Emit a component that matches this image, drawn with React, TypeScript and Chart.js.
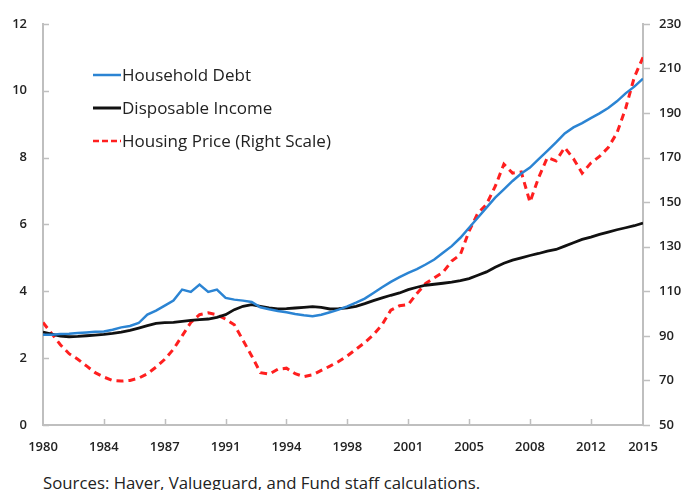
import React, { useEffect, useRef } from 'react';
import { Chart, registerables } from 'chart.js';
Chart.register(...registerables);

const years = [
  1980, 1980.5, 1981, 1981.5, 1982, 1982.5, 1983, 1983.5, 1984, 1984.5,
  1985, 1985.5, 1986, 1986.5, 1987, 1987.5, 1988, 1988.5, 1989, 1989.5,
  1990, 1990.5, 1991, 1991.5, 1992, 1992.5, 1993, 1993.5, 1994, 1994.5,
  1995, 1995.5, 1996, 1996.5, 1997, 1997.5, 1998, 1998.5, 1999, 1999.5,
  2000, 2000.5, 2001, 2001.5, 2002, 2002.5, 2003, 2003.5, 2004, 2004.5,
  2005, 2005.5, 2006, 2006.5, 2007, 2007.5, 2008, 2008.5, 2009, 2009.5,
  2010, 2010.5, 2011, 2011.5, 2012, 2012.5, 2013, 2013.5, 2014, 2014.5,
];

const householdDebt = [
  2.7, 2.7, 2.72, 2.73, 2.75, 2.77, 2.79, 2.8, 2.85, 2.92,
  2.96, 3.05, 3.3, 3.42, 3.57, 3.72, 4.05, 3.98, 4.2, 3.98,
  4.05, 3.8, 3.75, 3.72, 3.68, 3.52, 3.46, 3.41, 3.37, 3.32,
  3.28, 3.25, 3.3, 3.37, 3.45, 3.55, 3.66, 3.78, 3.95, 4.12,
  4.28, 4.42, 4.55, 4.66, 4.8, 4.95, 5.15, 5.35, 5.6, 5.9,
  6.2, 6.5, 6.8, 7.05, 7.3, 7.52, 7.7, 7.95, 8.2, 8.45,
  8.72, 8.9, 9.03, 9.18, 9.32, 9.48, 9.68, 9.92, 10.12, 10.36,
];

const disposableIncome = [
  2.78, 2.72, 2.66, 2.64, 2.65, 2.67, 2.69, 2.71, 2.74, 2.78,
  2.83, 2.9, 2.97, 3.04, 3.06, 3.07, 3.1, 3.13, 3.15, 3.17,
  3.22, 3.3, 3.45, 3.55, 3.6, 3.55, 3.5, 3.47, 3.48, 3.5,
  3.52, 3.54, 3.52, 3.47, 3.48, 3.5, 3.55, 3.63, 3.72, 3.8,
  3.88, 3.95, 4.05, 4.12, 4.18, 4.21, 4.24, 4.27, 4.32, 4.38,
  4.48, 4.58, 4.72, 4.84, 4.93, 5.0, 5.07, 5.13, 5.2, 5.25,
  5.35, 5.45, 5.55, 5.62, 5.7, 5.77, 5.84, 5.9, 5.96, 6.04,
];

const housingPrice = [
  96, 91, 86, 82, 79.5, 76.5, 73.5, 71.5, 70, 69.7,
  70, 71, 73, 76, 79.5, 84, 90, 96, 99.5, 100.3,
  99.5, 97.5, 95, 88, 81, 73.5, 72.8, 75, 75.5, 73,
  71.7, 72.5, 74.5, 76.4, 78.5, 81, 84, 87, 90.5, 95,
  101.5, 103.5, 104, 109, 113.5, 116, 118.5, 123.5, 126.5, 137,
  145, 149, 157, 167, 163, 163.5, 150, 161, 170, 168.5,
  174.5, 169.5, 163, 167.5, 170.5, 174.5, 181, 192, 206, 215,
];

const xTickValues = [1980, 1983.5, 1987, 1990.5, 1994, 1997.5, 2001, 2004.5, 2008, 2011.5, 2014.5];
const xTickLabels = ['1980', '1984', '1987', '1991', '1994', '1998', '2001', '2005', '2008', '2012', '2015'];

const seriesNames = ['Household Debt', 'Disposable Income', 'Housing Price (Right Scale)'];
const seriesColors = ['#2b84d3', '#111111', '#ff1f1f'];

const FONT = "'Open Sans', 'DejaVu Sans', sans-serif";
const TEXT = '#222222';
const AXIS = '#bfbfbf';

const decorPlugin = {
  id: 'decor',
  afterDraw(chart: any) {
    const { ctx, chartArea: a, scales } = chart;
    ctx.save();
    ctx.strokeStyle = AXIS;
    ctx.lineWidth = 1.5;
    ctx.beginPath();
    for (const t of scales.y.ticks) {
      const y = Math.round(scales.y.getPixelForValue(t.value)) + 0.5;
      ctx.moveTo(a.left, y);
      ctx.lineTo(a.left + 6, y);
    }
    for (const t of scales.y1.ticks) {
      const y = Math.round(scales.y1.getPixelForValue(t.value)) + 0.5;
      ctx.moveTo(a.right, y);
      ctx.lineTo(a.right + 7, y);
    }
    for (const v of xTickValues.slice(1, -1)) {
      const x = Math.round(scales.x.getPixelForValue(v)) + 0.5;
      ctx.moveTo(x, a.bottom);
      ctx.lineTo(x, a.bottom - 6);
    }
    ctx.stroke();

    // legend
    const rows = [75, 108, 141];
    const widths = [2.5, 3, 2.5];
    const dashes = [[], [], [6, 3]];
    ctx.font = `17px ${FONT}`;
    ctx.textBaseline = 'middle';
    ctx.textAlign = 'left';
    rows.forEach((y, i) => {
      ctx.beginPath();
      ctx.setLineDash(dashes[i]);
      ctx.strokeStyle = seriesColors[i];
      ctx.lineWidth = widths[i];
      ctx.moveTo(93, y);
      ctx.lineTo(121, y);
      ctx.stroke();
      ctx.setLineDash([]);
      ctx.fillStyle = TEXT;
      ctx.fillText(seriesNames[i], 122, y + 1);
    });
    ctx.restore();
  },
};

export default function App() {
  const ref = useRef<HTMLCanvasElement>(null);
  useEffect(() => {
    const mk = (arr: number[]) => arr.map((v, i) => ({ x: years[i], y: v }));
    const tickFont = { family: FONT, size: 13, weight: 600 };
    const chart = new Chart(ref.current as HTMLCanvasElement, {
      type: 'line',
      data: {
        datasets: [
          {
            label: seriesNames[0],
            data: mk(householdDebt),
            borderColor: seriesColors[0],
            borderWidth: 2.5,
            yAxisID: 'y',
            pointRadius: 0,
          },
          {
            label: seriesNames[1],
            data: mk(disposableIncome),
            borderColor: seriesColors[1],
            borderWidth: 2.8,
            yAxisID: 'y',
            pointRadius: 0,
          },
          {
            label: seriesNames[2],
            data: mk(housingPrice),
            borderColor: seriesColors[2],
            borderWidth: 3,
            borderDash: [7, 5],
            yAxisID: 'y1',
            pointRadius: 0,
          },
        ],
      },
      options: {
        responsive: false,
        animation: false,
        layout: { padding: { top: 22, left: 0, right: 0, bottom: 0 } },
        plugins: { legend: { display: false }, tooltip: { enabled: false } },
        scales: {
          x: {
            type: 'linear',
            min: 1980,
            max: 2014.5,
            afterBuildTicks: (s: any) => {
              s.ticks = xTickValues.map((v) => ({ value: v }));
            },
            afterFit: (s: any) => {
              s.height = 35;
            },
            grid: { drawOnChartArea: false, drawTicks: false },
            border: { display: true, color: AXIS, width: 2 },
            ticks: {
              autoSkip: false,
              maxRotation: 0,
              padding: 14,
              color: TEXT,
              font: tickFont,
              callback: (_v: any, i: number) => xTickLabels[i],
            },
          },
          y: {
            position: 'left',
            min: 0,
            max: 12,
            afterFit: (s: any) => {
              s.width = 43;
            },
            grid: { drawOnChartArea: false, drawTicks: false },
            border: { display: true, color: AXIS, width: 2 },
            ticks: { stepSize: 2, padding: 16, color: TEXT, font: tickFont },
          },
          y1: {
            position: 'right',
            min: 50,
            max: 230,
            afterFit: (s: any) => {
              s.width = 42;
            },
            grid: { drawOnChartArea: false, drawTicks: false },
            border: { display: true, color: AXIS, width: 2 },
            ticks: { stepSize: 20, padding: 16, color: TEXT, font: tickFont },
          },
        },
      },
      plugins: [decorPlugin],
    } as any);
    return () => chart.destroy();
  }, []);

  return (
    <div style={{ position: 'absolute', left: 0, top: 0, width: 685, height: 490, background: '#fff' }}>
      <canvas ref={ref} width={685} height={460} style={{ display: 'block', width: 685, height: 460 }} />
      <div
        style={{
          position: 'absolute',
          left: 43,
          top: 472,
          fontFamily: FONT,
          fontSize: 16.8,
          lineHeight: '22px',
          color: TEXT,
          whiteSpace: 'nowrap',
        }}
      >
        Sources: Haver, Valueguard, and Fund staff calculations.
      </div>
    </div>
  );
}
